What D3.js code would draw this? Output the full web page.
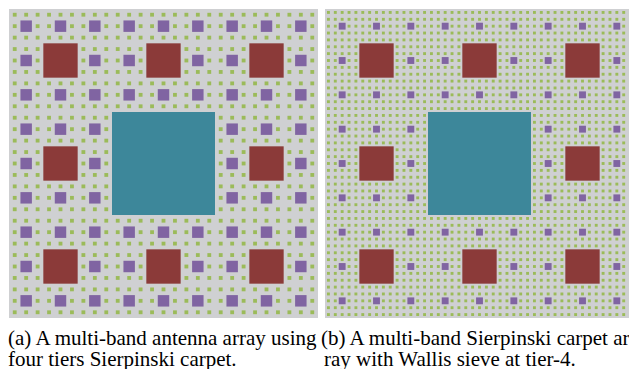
<!DOCTYPE html>
<html>
<head>
<meta charset="utf-8">
<script src="https://cdn.jsdelivr.net/npm/d3@7"></script>
<style>
  html, body { margin: 0; padding: 0; background: #fff; overflow: hidden; }
  svg { display: block; }
</style>
</head>
<body>
<div id="chart"></div>
<script>
// subdivision count per tier (center sub-square of every remaining cell is the antenna)
const carpetDivisions = [3, 3, 3, 3];
const sieveDivisions = [3, 3, 5, 3];
// antenna size as a fraction of its parent cell, per tier
const carpetHoleFrac = [1 / 3, 1 / 3, 1 / 3, 1 / 3];
const sieveHoleFrac = [1 / 3, 1 / 3, 1 / 5, 0.42];
const tierNames = ["tier-1", "tier-2", "tier-3", "tier-4"];
const tierColors = ["#3d879a", "#8b3a39", "#8064a2", "#9bbb59"];
const captionA = ["(a) A multi-band antenna array using", "four tiers Sierpinski carpet."];
const captionB = ["(b) A multi-band Sierpinski carpet ar", "ray with Wallis sieve at tier-4."];

const width = 629, height = 369;

const svg = d3.select("#chart")
  .append("svg")
  .attr("width", width)
  .attr("height", height);

// holes in unit square coords
function buildSquares(divs, fracs) {
  let cells = [{ x: 0, y: 0, s: 1 }];
  const holes = [];
  divs.forEach((n, t) => {
    const next = [];
    const mid = (n - 1) / 2;
    cells.forEach(c => {
      const s = c.s / n;
      const hs = c.s * fracs[t];
      holes.push({ tier: t, x: c.x + (c.s - hs) / 2, y: c.y + (c.s - hs) / 2, s: hs });
      for (let i = 0; i < n; i++) {
        for (let j = 0; j < n; j++) {
          if (i === mid && j === mid) continue;
          next.push({ x: c.x + i * s, y: c.y + j * s, s: s });
        }
      }
    });
    cells = next;
  });
  return holes;
}

function drawPanel(divs, fracs, x0, x1, y0, y1) {
  const x = d3.scaleLinear().domain([0, 1]).range([x0, x1]);
  const y = d3.scaleLinear().domain([0, 1]).range([y0, y1]);
  const color = d3.scaleOrdinal().domain(d3.range(tierNames.length)).range(tierColors);
  const g = svg.append("g");

  g.append("rect")
    .attr("x", x(0)).attr("y", y(0))
    .attr("width", x(1) - x(0)).attr("height", y(1) - y(0))
    .attr("fill", "#cfd0d2");

  g.selectAll("rect.ant")
    .data(buildSquares(divs, fracs))
    .enter().append("rect")
    .attr("class", "ant")
    .attr("x", d => x(d.x))
    .attr("y", d => y(d.y))
    .attr("width", d => x(d.x + d.s) - x(d.x))
    .attr("height", d => y(d.y + d.s) - y(d.y))
    .attr("fill", d => color(d.tier));
}

drawPanel(carpetDivisions, carpetHoleFrac, 9, 318, 9, 318);
drawPanel(sieveDivisions, sieveHoleFrac, 325, 634, 9, 318);

function caption(lines, xs, y) {
  svg.append("g")
    .selectAll("text")
    .data(lines)
    .enter().append("text")
    .attr("x", (d, i) => xs[i])
    .attr("y", (d, i) => y + i * 21)
    .attr("font-family", "'Liberation Serif', 'Times New Roman', serif")
    .attr("font-size", 21)
    .attr("fill", "#000")
    .text(d => d);
}

caption(captionA, [8, 8], 345);
caption(captionB, [321, 324], 345);
</script>
</body>
</html>
